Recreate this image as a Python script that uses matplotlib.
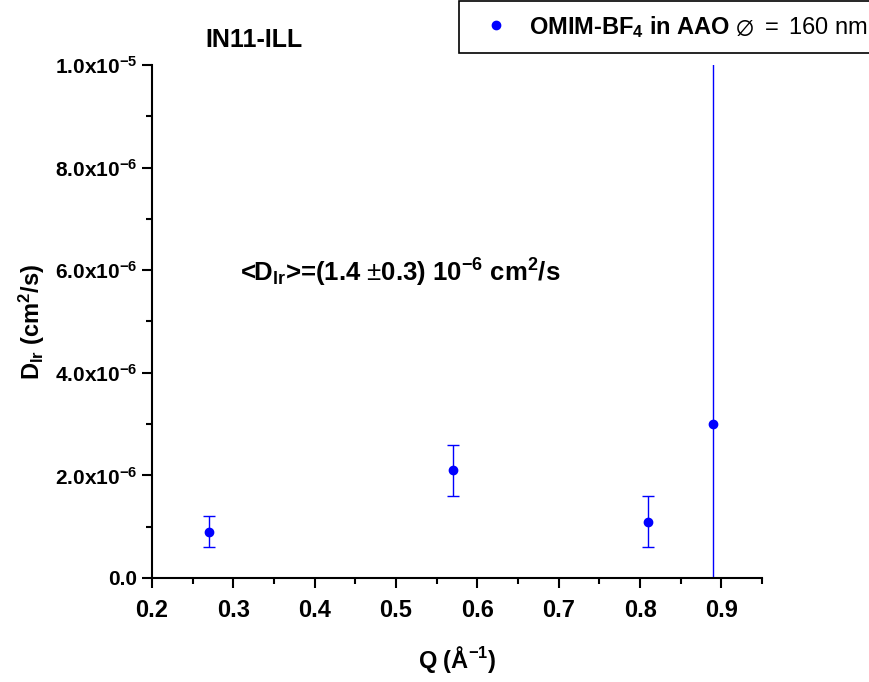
import matplotlib
matplotlib.use("Agg")
import math
import matplotlib.pyplot as plt
from matplotlib.ticker import MultipleLocator, FuncFormatter
from matplotlib.lines import Line2D

q = [0.27, 0.57, 0.81, 0.89]
d_lr = [0.9e-6, 2.1e-6, 1.1e-6, 3.0e-6]
d_err = [0.3e-6, 0.5e-6, 0.5e-6, 8.0e-6]
y_ticks = [0, 2e-6, 4e-6, 6e-6, 8e-6, 1e-5]
x_ticks = [0.2, 0.3, 0.4, 0.5, 0.6, 0.7, 0.8, 0.9]

plt.rcParams['font.family'] = ['Liberation Sans', 'DejaVu Sans']
plt.rcParams['mathtext.fontset'] = 'custom'
plt.rcParams['mathtext.rm'] = 'Liberation Sans'
plt.rcParams['mathtext.bf'] = 'Liberation Sans:bold'
plt.rcParams['mathtext.it'] = 'Liberation Sans:italic'

fig = plt.figure(figsize=(8.7, 6.82), dpi=100)
ax = fig.add_axes([0.1747, 0.1525, 0.7013, 0.7522])

ax.errorbar(q, d_lr, yerr=d_err, fmt='o', color='#0000ff', ms=6,
            elinewidth=1, capsize=4, capthick=1)

ax.set_xlim(0.2, 0.95)
ax.set_ylim(0, 1e-5)
ax.set_xticks(x_ticks)
ax.set_yticks(y_ticks)
ax.xaxis.set_minor_locator(MultipleLocator(0.05))
ax.yaxis.set_minor_locator(MultipleLocator(1e-6))

def yfmt(v, pos):
    if v == 0:
        return '0.0'
    e = int(math.floor(math.log10(abs(v)) + 1e-9))
    m = v / 10**e
    return r'%.1fx10$^{\mathbf{%d}}$' % (m, e)

ax.yaxis.set_major_formatter(FuncFormatter(yfmt))
ax.xaxis.set_major_formatter(FuncFormatter(lambda v, p: '%.1f' % v))

for s in ['top', 'right']:
    ax.spines[s].set_visible(False)
for s in ['left', 'bottom']:
    ax.spines[s].set_linewidth(1.5)
ax.tick_params(which='major', direction='out', length=7, width=1.5, labelsize=15)
ax.tick_params(axis='x', which='major', pad=8, labelsize=17)
ax.tick_params(which='minor', direction='out', length=4, width=1.5)
for lab in ax.get_xticklabels() + ax.get_yticklabels():
    lab.set_fontweight('bold')

ax.set_xlabel(r'Q ($\mathbf{\AA^{-1}}$)', fontsize=17, fontweight='bold', labelpad=16)
ax.set_ylabel(r'D$_{\mathbf{lr}}$ (cm$^{\mathbf{2}}$/s)', fontsize=17, fontweight='bold', labelpad=6)

ax.text(0.144, 0.595, r'<D$_{\mathbf{lr}}$>=(1.4 $\pm$0.3) 10$^{\mathbf{-6}}$ cm$^{\mathbf{2}}$/s',
        transform=ax.transAxes, fontsize=18.5, fontweight='bold', ha='left', va='center')

fig.text(0.236, 0.942, 'IN11-ILL', fontsize=18, fontweight='bold', ha='left', va='center')

handle = Line2D([], [], marker='o', linestyle='none', color='#0000ff', ms=6)
leg = fig.legend([handle], [r'OMIM-BF$_{\mathbf{4}}$ in AAO $\mathrm{\varnothing\ {=}\ 160\ nm}$'],
                 loc='upper left', bbox_to_anchor=(0.528, 0.999), fancybox=False,
                 edgecolor='black', framealpha=1, fontsize=17, borderpad=0.55,
                 handletextpad=0.4, borderaxespad=0)
leg.get_frame().set_linewidth(1.2)
for t in leg.get_texts():
    t.set_fontweight('bold')

fig.savefig('out.png', dpi=100)
